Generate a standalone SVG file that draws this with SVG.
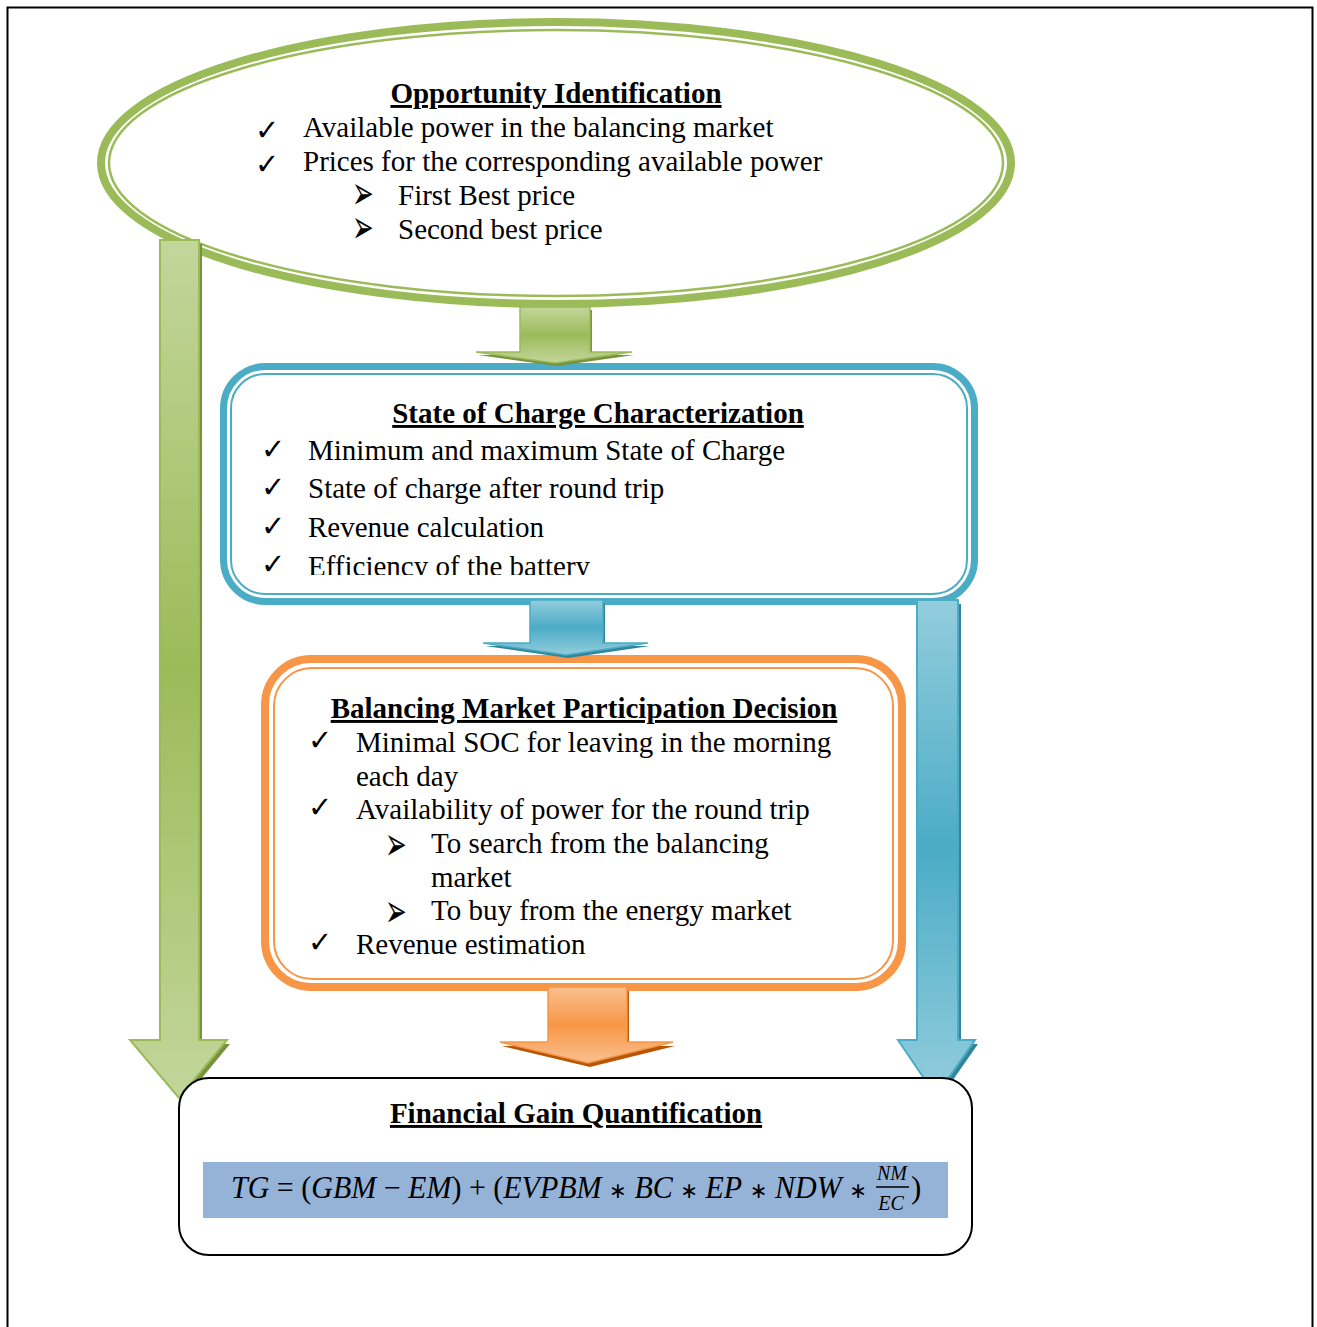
<svg xmlns="http://www.w3.org/2000/svg" width="1317" height="1327" viewBox="0 0 1317 1327">
<style>
.t{font-family:"Liberation Serif","Times New Roman",serif;font-size:29px;fill:#000}
.h{font-family:"Liberation Serif","Times New Roman",serif;font-size:29px;font-weight:bold;fill:#000;text-decoration:underline;text-anchor:middle}
.ck{font-family:"DejaVu Sans",sans-serif;font-size:29px;fill:#000}
.ar{font-family:"DejaVu Sans",sans-serif;font-size:26px;fill:#000}
.m{font-family:"Liberation Serif","Times New Roman",serif;font-size:31px;fill:#000}
.f{font-family:"Liberation Serif","Times New Roman",serif;font-size:20px;font-style:italic;fill:#000;text-anchor:middle}
.s{font-family:"DejaVu Sans",sans-serif;font-size:22px;font-style:normal}
.i{font-style:italic}
</style>
<defs>
<linearGradient id="gG" x1="0" y1="0" x2="0" y2="1"><stop offset="0" stop-color="#C3D69B"/><stop offset="0.5" stop-color="#9BBB59"/><stop offset="1" stop-color="#C3D69B"/></linearGradient>
<linearGradient id="gB" x1="0" y1="0" x2="0" y2="1"><stop offset="0" stop-color="#93CDDD"/><stop offset="0.5" stop-color="#4BACC6"/><stop offset="1" stop-color="#93CDDD"/></linearGradient>
<linearGradient id="gO" x1="0" y1="0" x2="0" y2="1"><stop offset="0" stop-color="#FAC090"/><stop offset="0.5" stop-color="#F79646"/><stop offset="1" stop-color="#FAC090"/></linearGradient>
<clipPath id="clipSoc"><rect x="230" y="380" width="740" height="195"/></clipPath>
</defs>
<rect width="1317" height="1327" fill="#fff"/>
<path d="M7.5 1327 V7.5 H1312.5 V1327" fill="none" stroke="#000" stroke-width="2"/>

<g id="opportunity">
<ellipse cx="556" cy="163" rx="455" ry="141" fill="#fff" stroke="#9BBB59" stroke-width="8"/>
<ellipse cx="556" cy="163" rx="447" ry="133" fill="none" stroke="#9BBB59" stroke-width="2.5"/>
<text class="h" x="556" y="103">Opportunity Identification</text>
<text class="ck" x="255" y="140">✓</text><text class="t" x="303" y="137">Available power in the balancing market</text>
<text class="ck" x="255" y="174">✓</text><text class="t" x="303" y="171">Prices for the corresponding available power</text>
<text class="ar" transform="translate(352,209) scale(1,1.8)">➢</text><text class="t" x="398" y="205">First Best price</text>
<text class="ar" transform="translate(352,243) scale(1,1.8)">➢</text><text class="t" x="398" y="239">Second best price</text>
</g>

<g id="soc">
<rect x="223.5" y="366.5" width="751" height="235" rx="42" fill="#fff" stroke="#4BACC6" stroke-width="7"/>
<rect x="231" y="374" width="736" height="220" rx="34" fill="none" stroke="#4BACC6" stroke-width="2"/>
<text class="h" x="598" y="423">State of Charge Characterization</text>
<text class="ck" x="261" y="459">✓</text><text class="t" x="308" y="460">Minimum and maximum State of Charge</text>
<text class="ck" x="261" y="497">✓</text><text class="t" x="308" y="498">State of charge after round trip</text>
<text class="ck" x="261" y="536">✓</text><text class="t" x="308" y="537">Revenue calculation</text>
<g clip-path="url(#clipSoc)"><text class="ck" x="261" y="574">✓</text><text class="t" x="308" y="576">Efficiency of the battery</text></g>
</g>

<g id="decision">
<rect x="265" y="659" width="637" height="328" rx="46" fill="#fff" stroke="#F79646" stroke-width="8"/>
<rect x="274" y="668" width="619" height="311" rx="38" fill="none" stroke="#F79646" stroke-width="2"/>
<text class="h" x="584" y="718">Balancing Market Participation Decision</text>
<text class="ck" x="308" y="750">✓</text><text class="t" x="356" y="752">Minimal SOC for leaving in the morning</text>
<text class="t" x="356" y="786">each day</text>
<text class="ck" x="308" y="817">✓</text><text class="t" x="356" y="819">Availability of power for the round trip</text>
<text class="ar" transform="translate(385,860) scale(1,1.8)">➢</text><text class="t" x="431" y="853">To search from the balancing</text>
<text class="t" x="431" y="887">market</text>
<text class="ar" transform="translate(385,927) scale(1,1.8)">➢</text><text class="t" x="431" y="920">To buy from the energy market</text>
<text class="ck" x="308" y="952">✓</text><text class="t" x="356" y="954">Revenue estimation</text>
</g>

<g id="connectors">
<polygon points="520,307 590,307 590,352 632,352 555,363 476,352 520,352" fill="#76923C" transform="translate(2,3)"/>
<polygon points="520,307 590,307 590,352 632,352 555,363 476,352 520,352" fill="url(#gG)" stroke="#9BBB59" stroke-width="1.5"/>
<polygon points="530,600 603,600 603,643 648,643 566,655 483,643 530,643" fill="#31859B" transform="translate(2,3)"/>
<polygon points="530,600 603,600 603,643 648,643 566,655 483,643 530,643" fill="url(#gB)" stroke="#4BACC6" stroke-width="1.5"/>
<polygon points="548,987 627,987 627,1042 673,1042 588,1063 500,1042 548,1042" fill="#B65708" transform="translate(2,4)"/>
<polygon points="548,987 627,987 627,1042 673,1042 588,1063 500,1042 548,1042" fill="url(#gO)" stroke="#F79646" stroke-width="1.5"/>
<polygon points="160,240 199,240 199,1040 227,1040 179,1098 130,1040 160,1040" fill="#76923C" transform="translate(3,4)"/>
<polygon points="160,240 199,240 199,1040 227,1040 179,1098 130,1040 160,1040" fill="url(#gG)" stroke="#9BBB59" stroke-width="2"/>
<polygon points="917,600 958,600 958,1040 975,1040 936,1096 898,1040 917,1040" fill="#31859B" transform="translate(3,4)"/>
<polygon points="917,600 958,600 958,1040 975,1040 936,1096 898,1040 917,1040" fill="url(#gB)" stroke="#4BACC6" stroke-width="2"/>
</g>

<g id="financial">
<rect x="179" y="1078" width="793" height="177" rx="30" fill="#fff" stroke="#000" stroke-width="2"/>
<text class="h" x="576" y="1123">Financial Gain Quantification</text>
<rect x="203" y="1162" width="745" height="56" fill="#95B3D7"/>
<text class="m" x="231" y="1198" textLength="636" lengthAdjust="spacingAndGlyphs"><tspan class="i">TG</tspan> = (<tspan class="i">GBM</tspan> − <tspan class="i">EM</tspan>) + (<tspan class="i">EVPBM</tspan> <tspan class="s">∗</tspan> <tspan class="i">BC</tspan> <tspan class="s">∗</tspan> <tspan class="i">EP</tspan> <tspan class="s">∗</tspan> <tspan class="i">NDW</tspan> <tspan class="s">∗</tspan></text>
<text class="f" x="892" y="1180">NM</text>
<line x1="876" y1="1187" x2="909" y2="1187" stroke="#000" stroke-width="1.5"/>
<text class="f" x="891" y="1210">EC</text>
<text class="m" x="911" y="1198">)</text>
</g>
</svg>
